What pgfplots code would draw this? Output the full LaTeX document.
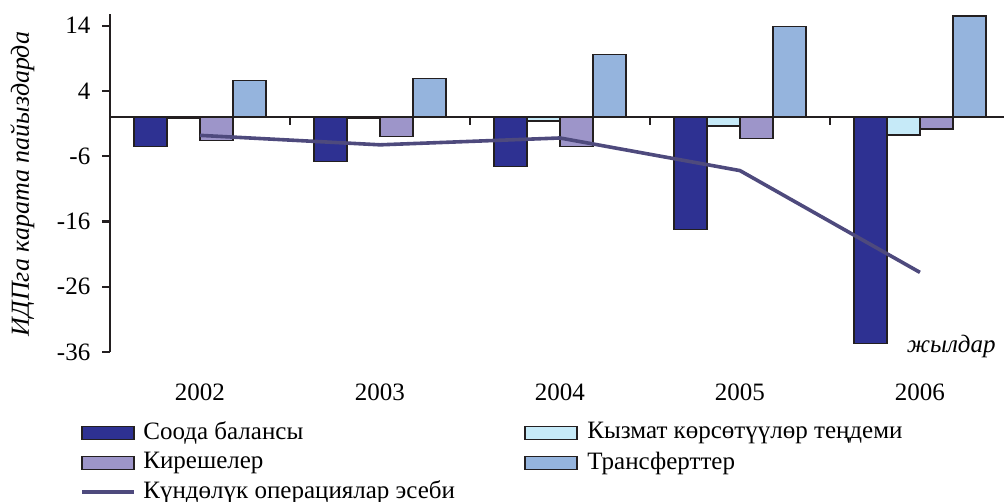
\documentclass[border=0pt]{standalone}
\usepackage{fontspec}
\setmainfont{Liberation Serif}
\usepackage{pgfplots}
\pgfplotsset{compat=1.18}
\definecolor{soda}{HTML}{2E3192}
\definecolor{kyzmat}{HTML}{C6EAF8}
\definecolor{kireshe}{HTML}{9D95C9}
\definecolor{transfer}{HTML}{95B4DD}
\definecolor{linec}{HTML}{4E4A7D}
\definecolor{edge}{HTML}{231F20}
\begin{document}
\fontsize{12.5}{15}\selectfont
\begin{tikzpicture}[x=1pt,y=1pt]
\useasboundingbox (0,0) rectangle (502,251);
\begin{axis}[
  at={(55pt,75pt)}, anchor=south west,
  scale only axis, width=447pt, height=169pt,
  xmin=-0.5, xmax=4.467, ymin=-36, ymax=15.8,
  axis y line*=left, axis x line*=bottom,
  axis line style={-, line width=1.2pt, edge},
  x axis line style={draw=none},
  xtick={0,1,2,3,4}, xticklabels={2002,2003,2004,2005,2006},
  xtick style={draw=none},
  xticklabel style={anchor=center, yshift=-16pt},
  ytick={-36,-26,-16,-6,4,14},
  yticklabels={-36,-26,-16,-6,4,14},
  ytick pos=left, tick align=outside, major tick length=4pt,
  y tick style={line width=1.2pt, edge},
  yticklabel style={anchor=east, xshift=-1.5pt},
  /pgf/number format/assume math mode=true,
  ylabel={\fontsize{13}{15}\selectfont\itshape ИДПга карата пайыздарда},
  ylabel style={at={(axis description cs:-0.098,0.497)}, anchor=center},
  clip=false,
]
\draw[line width=1.2pt, edge] (axis cs:-0.5,0) -- (axis cs:4.467,0);
\draw[line width=1.2pt, edge] (axis cs:0.5,0) -- (axis cs:0.5,-1.15);
\draw[line width=1.2pt, edge] (axis cs:1.5,0) -- (axis cs:1.5,-1.15);
\draw[line width=1.2pt, edge] (axis cs:2.5,0) -- (axis cs:2.5,-1.15);
\draw[line width=1.2pt, edge] (axis cs:3.5,0) -- (axis cs:3.5,-1.15);
\addplot[ybar, bar width=16.5pt, bar shift=-24.75pt, fill=soda, draw=edge, line width=0.8pt]
  coordinates {(0,-4.5) (1,-6.8) (2,-7.6) (3,-17.2) (4,-34.7)};
\addplot[ybar, bar width=16.5pt, bar shift=-8.25pt, fill=kyzmat, draw=edge, line width=0.8pt]
  coordinates {(0,-0.2) (1,-0.1) (2,-0.6) (3,-1.4) (4,-2.7)};
\addplot[ybar, bar width=16.5pt, bar shift=8.25pt, fill=kireshe, draw=edge, line width=0.8pt]
  coordinates {(0,-3.6) (1,-3.0) (2,-4.5) (3,-3.3) (4,-1.8)};
\addplot[ybar, bar width=16.5pt, bar shift=24.75pt, fill=transfer, draw=edge, line width=0.8pt]
  coordinates {(0,5.6) (1,5.9) (2,9.6) (3,13.9) (4,15.5)};
\addplot[sharp plot, no marks, line width=1.8pt, linec]
  coordinates {(0,-2.8) (1,-4.25) (2,-3.2) (3,-8.2) (4,-23.8)};
\node[font=\itshape] at (axis description cs:0.941,0.015) {жылдар};
\end{axis}
% legend
\draw[edge, line width=0.8pt, fill=soda] (41,31.25) rectangle (67,37.75);
\node[anchor=west, inner sep=0pt] at (71.5,34.5) {Соода балансы};
\draw[edge, line width=0.8pt, fill=kireshe] (41,16.25) rectangle (67,22.75);
\node[anchor=west, inner sep=0pt] at (71.5,19.5) {Кирешелер};
\draw[linec, line width=1.8pt] (41,5) -- (67,5);
\node[anchor=west, inner sep=0pt] at (71.5,5) {Күндөлүк операциялар эсеби};
\draw[edge, line width=0.8pt, fill=kyzmat] (262.5,31.25) rectangle (288.5,37.75);
\node[anchor=west, inner sep=0pt] at (293.5,34.5) {Кызмат көрсөтүүлөр теңдеми};
\draw[edge, line width=0.8pt, fill=transfer] (262.5,16.25) rectangle (288.5,22.75);
\node[anchor=west, inner sep=0pt] at (293.5,19.5) {Трансферттер};
\end{tikzpicture}
\end{document}
